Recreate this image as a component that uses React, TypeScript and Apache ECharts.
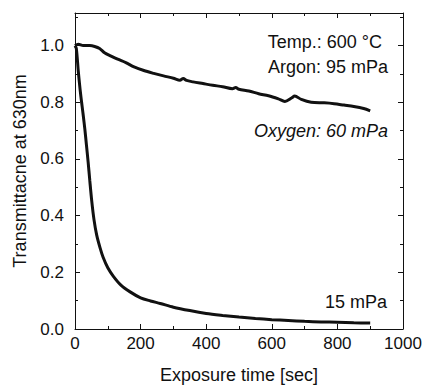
import React, { useEffect, useRef } from "react";
import * as echarts from "echarts";

const slowTime = [0, 10, 25, 45, 60, 75, 90, 110, 130, 155, 180, 210, 240, 270, 300, 320, 330, 340, 360, 390, 420, 450, 480, 490, 500, 530, 560, 590, 620, 640, 660, 670, 690, 720, 760, 790, 820, 850, 880, 900];
const slowValue = [1.0, 1.005, 1.0, 1.0, 0.997, 0.99, 0.975, 0.963, 0.952, 0.94, 0.925, 0.912, 0.902, 0.893, 0.885, 0.878, 0.884, 0.877, 0.872, 0.866, 0.86, 0.855, 0.848, 0.852, 0.846, 0.84, 0.83, 0.823, 0.812, 0.803, 0.815, 0.822, 0.81, 0.8, 0.798, 0.795, 0.79, 0.785, 0.778, 0.77];

const fastTime = [0, 4, 10, 17, 25, 30, 35, 40, 45, 51, 58, 66, 76, 86, 100, 117, 140, 168, 200, 230, 260, 300, 350, 400, 450, 500, 550, 600, 650, 700, 750, 800, 850, 900];
const fastValue = [1.0, 0.99, 0.91, 0.83, 0.755, 0.705, 0.648, 0.59, 0.525, 0.452, 0.385, 0.332, 0.288, 0.252, 0.216, 0.186, 0.155, 0.131, 0.11, 0.099, 0.09, 0.077, 0.065, 0.055, 0.048, 0.042, 0.037, 0.033, 0.03, 0.027, 0.025, 0.024, 0.022, 0.021];

const xTitle = "Exposure time [sec]";
const yTitle = "Transmittacne at 630nm";
const notes = ["Temp.: 600 °C", "Argon: 95 mPa", "Oxygen: 60 mPa", "15 mPa"];

const FONT = "'Liberation Sans', Arial, Helvetica, sans-serif";
const INK = "#111111";

export default function App() {
  const ref = useRef<HTMLDivElement>(null);
  useEffect(() => {
    if (!ref.current) return;
    const chart = echarts.init(ref.current, null, { renderer: "svg" });
    const axisCommon = {
      axisLine: { show: true, onZero: false, lineStyle: { color: INK, width: 1 } },
      axisTick: { show: true, inside: true, length: 5, lineStyle: { color: INK } },
      minorTick: { show: true, splitNumber: 2, length: 3, lineStyle: { color: INK } },
      splitLine: { show: false },
    };
    chart.setOption({
      animation: false,
      backgroundColor: "#ffffff",
      textStyle: { fontFamily: FONT },
      grid: { left: 75, right: 22, top: 13, bottom: 58 },
      xAxis: [
        {
          type: "value", min: 0, max: 1000, interval: 200, position: "bottom",
          ...axisCommon,
          axisLabel: { color: INK, fontSize: 17, fontFamily: FONT, margin: 6, formatter: (v: number) => String(v) },
          name: xTitle, nameLocation: "middle", nameGap: 37,
          nameTextStyle: { color: INK, fontSize: 18, fontFamily: FONT },
        },
        {
          type: "value", min: 0, max: 1000, interval: 200, position: "top",
          ...axisCommon, axisLabel: { show: false },
        },
      ],
      yAxis: [
        {
          type: "value", min: 0, max: 1.115, interval: 0.2, position: "left",
          ...axisCommon,
          axisLabel: {
            color: INK, fontSize: 17, fontFamily: FONT, margin: 11, showMaxLabel: false,
            formatter: (v: number) => v.toFixed(1),
          },
          name: yTitle, nameLocation: "middle", nameGap: 46,
          nameTextStyle: { color: INK, fontSize: 18, fontFamily: FONT },
        },
        {
          type: "value", min: 0, max: 1.115, interval: 0.2, position: "right",
          ...axisCommon, axisLabel: { show: false },
        },
      ],
      series: [
        {
          type: "line", xAxisIndex: 0, yAxisIndex: 0, showSymbol: false, smooth: 0.3,
          lineStyle: { color: INK, width: 3 },
          data: slowTime.map((t, i) => [t, slowValue[i]]),
        },
        {
          type: "line", xAxisIndex: 0, yAxisIndex: 0, showSymbol: false, smooth: 0.3,
          lineStyle: { color: INK, width: 3 },
          data: fastTime.map((t, i) => [t, fastValue[i]]),
        },
      ],
      graphic: [
        { type: "text", right: 43, top: 33, style: { text: notes[0], fill: INK, font: `18px ${FONT}` } },
        { type: "text", right: 37, top: 58, style: { text: notes[1], fill: INK, font: `18px ${FONT}` } },
        { type: "text", right: 37, top: 122, style: { text: notes[2], fill: INK, font: `italic 18px ${FONT}` } },
        { type: "text", right: 38, top: 293, style: { text: notes[3], fill: INK, font: `18px ${FONT}` } },
      ],
    });
    return () => chart.dispose();
  }, []);
  return <div ref={ref} style={{ width: 425, height: 389, position: "absolute", left: 0, top: 0 }} />;
}
